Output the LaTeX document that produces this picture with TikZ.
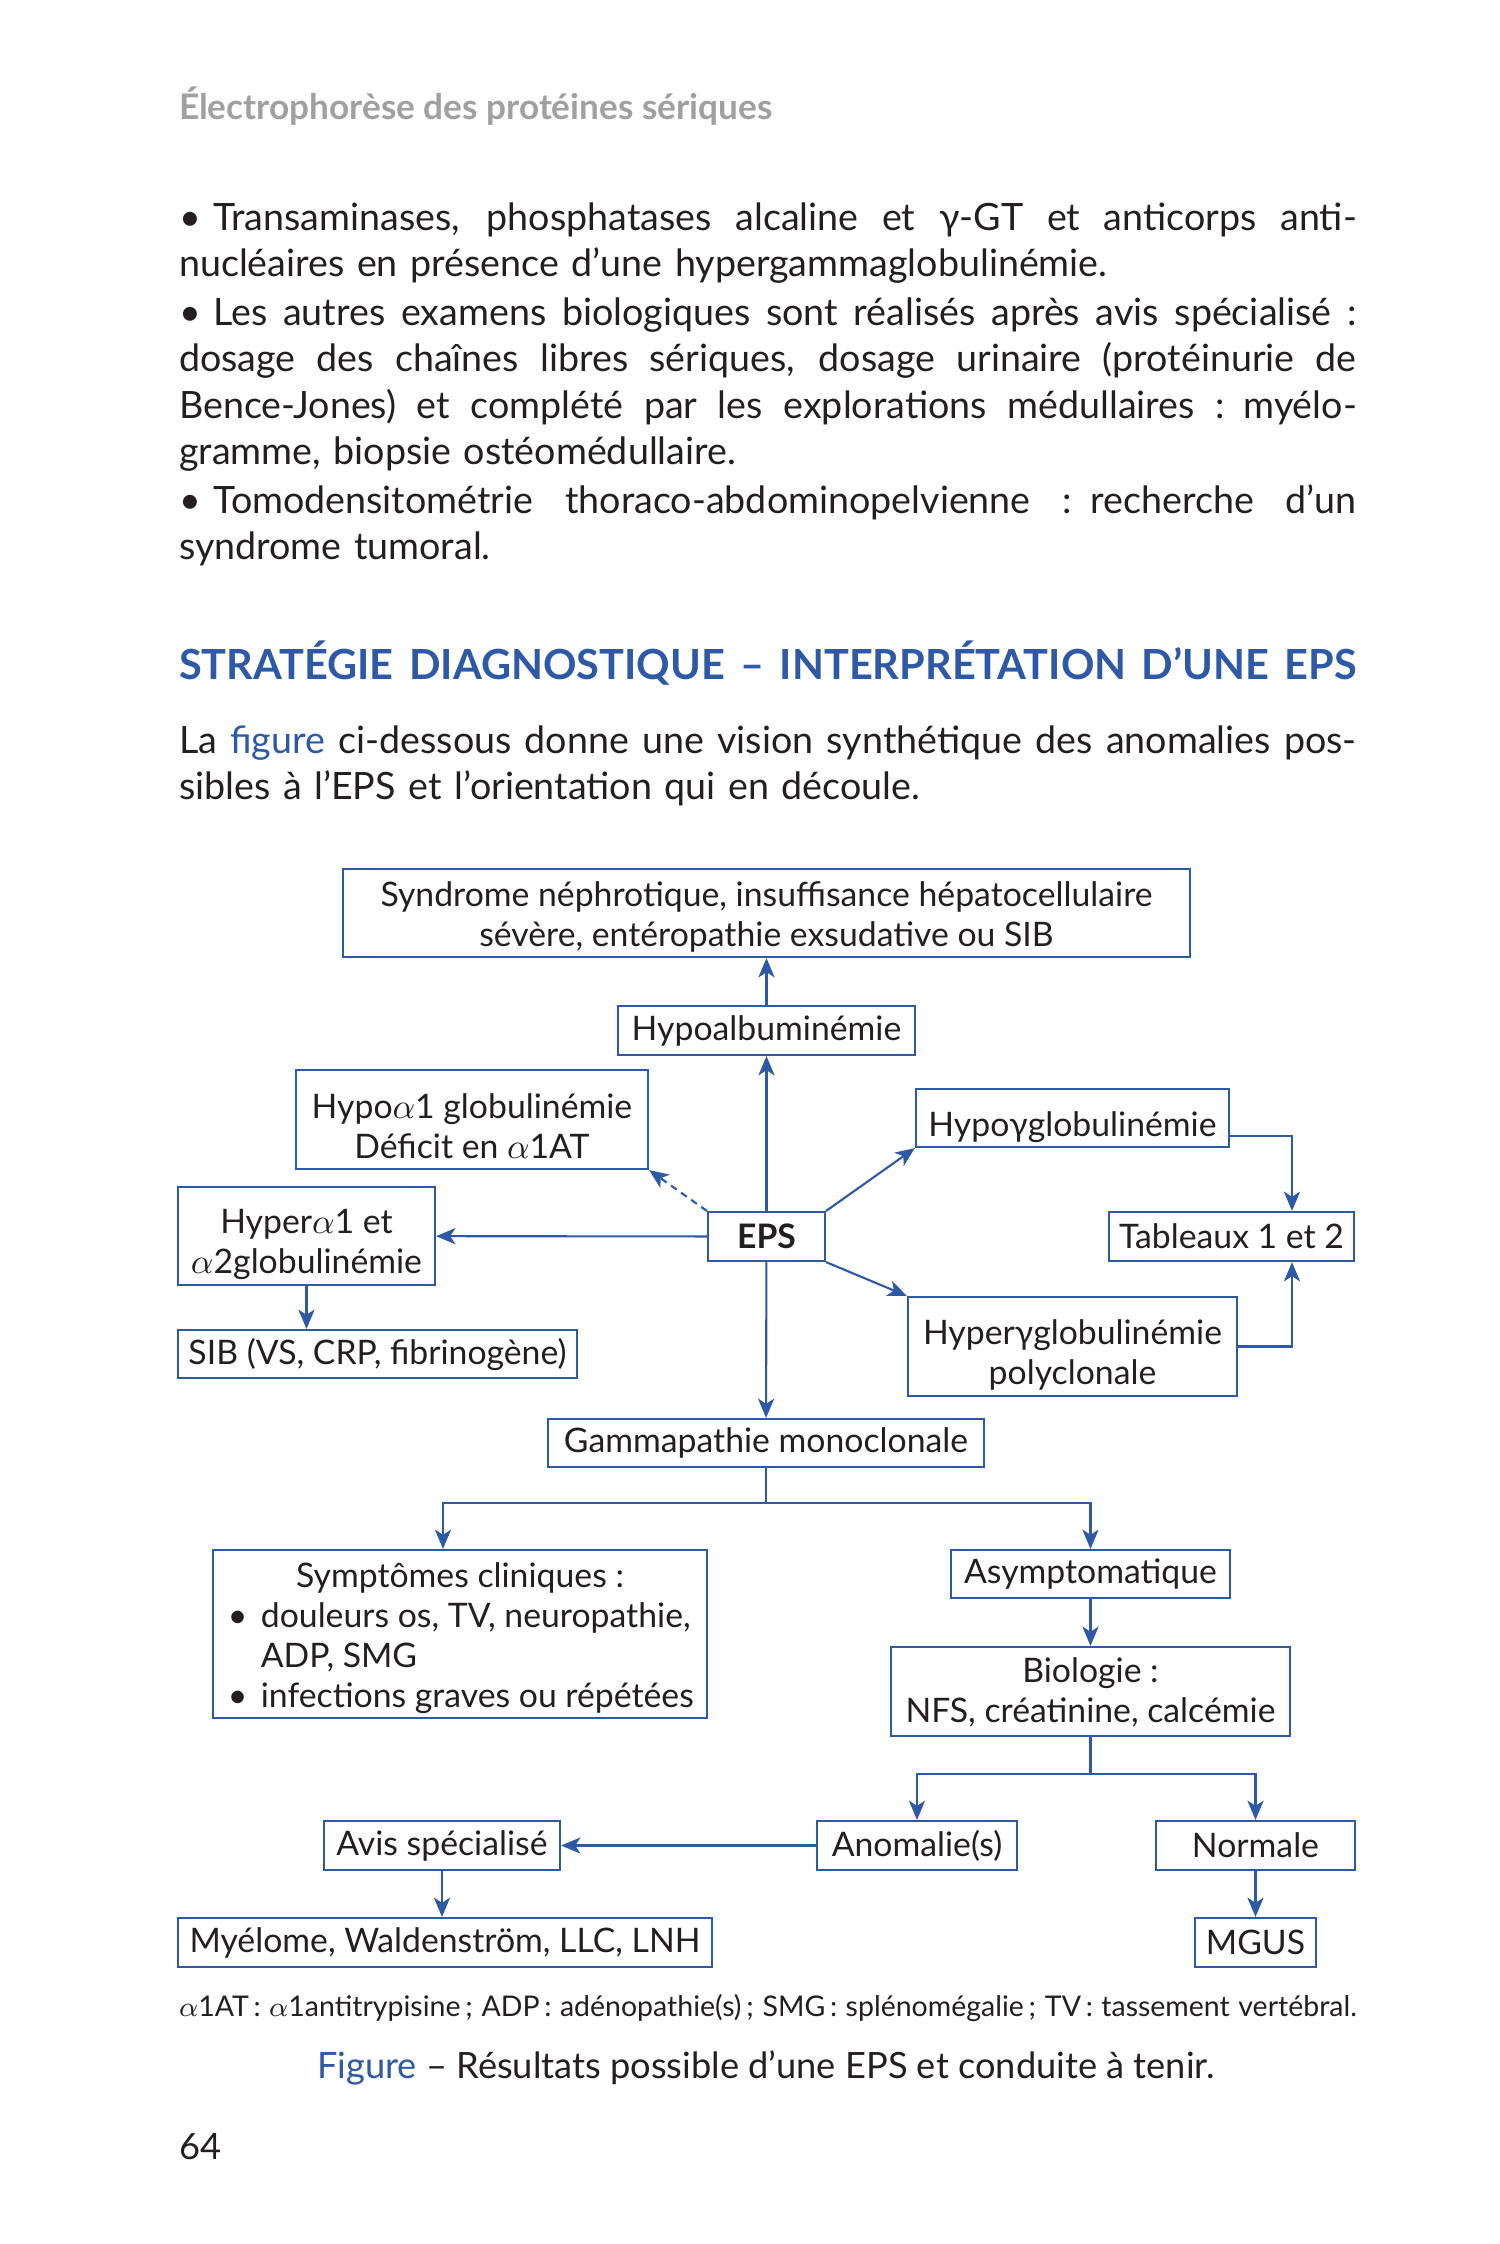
\documentclass[tikz,border=0pt]{standalone}
\usepackage{fontspec}
\setmainfont{Lato}
\usetikzlibrary{arrows.meta}
\definecolor{bleu}{RGB}{46,89,167}
\definecolor{gris}{RGB}{160,160,160}
\definecolor{encre}{RGB}{35,31,32}
\newcommand{\justif}[1]{{\spaceskip=.3333em plus .3em minus .05em\makebox[11.77cm][s]{#1}}}
\newcommand{\cale}[1]{\rule{0pt}{#1}}
\newcommand{\puce}{\textbullet\hspace{.3333em}}
\tikzset{every path/.style={line width=0.6pt}}
\tikzset{boite/.style={draw=bleu, text=encre, inner sep=0pt, align=center, font=\fontsize{9.6}{11.4}\selectfont}}
\tikzset{fleche/.style={draw=bleu, -{Stealth[length=5.5pt,width=4.6pt,inset=1.5pt]}}}
\tikzset{texte/.style={anchor=north west, inner sep=0pt, text=encre, align=left, text width=11.77cm, font=\fontsize{10.7}{13.1}\selectfont}}

\begin{document}
\begin{tikzpicture}[x=0.01cm,y=-0.01cm]
\fill[white] (0,0) rectangle (1500,2244);
\node[anchor=west, inner sep=0pt, text=gris, font=\bfseries\fontsize{10}{12}\selectfont] (entete) at (178,106) {Électrophorèse des protéines sériques};
\node[texte] (puces) at (178,202) {\justif{\puce Transaminases, phosphatases alcaline et γ-GT et anticorps anti-}\\
nucléaires en présence d’une hypergammaglobulinémie.\\[0.85pt]
\justif{\puce Les autres examens biologiques sont réalisés après avis spécialisé :}\\
\justif{dosage des chaînes libres sériques, dosage urinaire (protéinurie de}\\
\justif{Bence-Jones) et complété par les explorations médullaires : myélo-}\\
gramme, biopsie ostéomédullaire.\\[0.85pt]
\justif{\puce Tomodensitométrie thoraco-abdominopelvienne : recherche d’un}\\
syndrome tumoral.};
\node[anchor=west, inner sep=0pt, text=bleu, font=\bfseries\fontsize{11.8}{14}\selectfont] (titre) at (178,663) {\justif{STRATÉGIE DIAGNOSTIQUE – INTERPRÉTATION D’UNE EPS}};
\node[texte] (intro) at (178,725) {\justif{La \textcolor{bleu}{figure} ci-dessous donne une vision synthétique des anomalies pos-}\\
sibles à l’EPS et l’orientation qui en découle.};

\node[boite, minimum width=8.47cm, minimum height=0.88cm] (syndrome) at (766.5,913) {\cale{9.3pt}Syndrome néphrotique, insuffisance hépatocellulaire\\sévère, entéropathie exsudative ou SIB};
\node[boite, minimum width=2.97cm, minimum height=0.49cm] (hypoalb) at (766.5,1030.5) {Hypoalbuminémie};
\node[boite, minimum width=3.52cm, minimum height=0.99cm] (hypoa) at (472,1119.5) {\cale{11.1pt}Hypo$\alpha$1 globulinémie\\Déficit en $\alpha$1AT};
\node[boite, minimum width=3.13cm, minimum height=0.58cm] (hypog) at (1072.5,1118) {\cale{12pt}Hypoγglobulinémie};
\node[boite, minimum width=1.17cm, minimum height=0.49cm, font=\bfseries\fontsize{9.6}{11.4}\selectfont] (eps) at (766.5,1236.5) {EPS};
\node[boite, minimum width=2.57cm, minimum height=0.98cm] (hypera) at (306.5,1236) {\cale{11.5pt}Hyper$\alpha$1 et\\$\alpha$2globulinémie};
\node[boite, minimum width=2.45cm, minimum height=0.49cm] (tableaux) at (1231.5,1236.5) {Tableaux 1 et 2};
\node[boite, minimum width=3.29cm, minimum height=0.99cm] (hyperg) at (1072.5,1346.5) {\cale{11.9pt}Hyperγglobulinémie\\polyclonale};
\node[boite, minimum width=3.99cm, minimum height=0.48cm] (sib) at (377.5,1354) {SIB (VS, CRP, fibrinogène)};
\node[boite, minimum width=4.36cm, minimum height=0.48cm] (gamma) at (766,1443) {Gammapathie monoclonale};
\node[boite, minimum width=4.94cm, minimum height=1.68cm] (sympt) at (460,1634) {\begin{minipage}{4.74cm}\vspace*{2.3pt}\centering Symptômes cliniques :\par
\raggedright
\hspace*{0.05cm}\makebox[0.33cm][l]{\textbullet}douleurs os, TV, neuropathie,\par
\hspace*{0.38cm}ADP, SMG\par
\hspace*{0.05cm}\makebox[0.33cm][l]{\textbullet}infections graves ou répétées\end{minipage}};
\node[boite, minimum width=2.79cm, minimum height=0.48cm] (asympt) at (1090.5,1574) {Asymptomatique};
\node[boite, minimum width=3.99cm, minimum height=0.89cm] (bio) at (1090.5,1691.5) {\cale{7.8pt}Biologie :\\NFS, créatinine, calcémie};
\node[boite, minimum width=2.00cm, minimum height=0.49cm] (anom) at (917,1845.5) {Anomalie(s)};
\node[boite, minimum width=1.99cm, minimum height=0.49cm] (normale) at (1255.5,1845.5) {Normale};
\node[boite, minimum width=2.36cm, minimum height=0.49cm] (avis) at (442,1845.5) {Avis spécialisé};
\node[boite, minimum width=5.34cm, minimum height=0.49cm] (myelome) at (445,1942.5) {Myélome, Waldenström, LLC, LNH};
\node[boite, minimum width=1.21cm, minimum height=0.49cm] (mgus) at (1255.5,1942.5) {MGUS};
\coordinate (coude) at (1292,0);
\coordinate (gauche) at (443,0);

\draw[fleche] (hypoalb) -- (syndrome);
\draw[fleche] (eps) -- (hypoalb);
\draw[fleche, dash pattern=on 2pt off 1.5pt] (eps.north west) -- (hypoa.south east);
\draw[fleche] (eps.north east) -- (hypog.south west);
\draw[fleche] (eps) -- (hypera);
\draw[fleche] (eps.south east) -- (hyperg.north west);
\draw[fleche] (eps) -- (gamma);
\draw[fleche] (hypera.south) -- (hypera.south |- sib.north);
\draw[fleche] ([yshift=3.4pt]hypog.south east) -| (coude |- tableaux.north);
\draw[fleche] (hyperg.east) -| (coude |- tableaux.south);
\draw[fleche] (gamma.south) -- ++(0,35) -| (gauche |- sympt.north);
\draw[fleche] (gamma.south) -- ++(0,35) -| (asympt.north);
\draw[fleche] (asympt) -- (bio);
\draw[fleche] (bio.south) -- ++(0,37) -| (anom.north);
\draw[fleche] (bio.south) -- ++(0,37) -| (normale.north);
\draw[fleche] (anom) -- (avis);
\draw[fleche] (avis.south) -- (avis.south |- myelome.north);
\draw[fleche] (normale) -- (mgus);

\node[anchor=west, inner sep=0pt, text=encre, font=\fontsize{8.1}{10}\selectfont] (abrev) at (178,2008) {\justif{$\alpha$1AT\,: $\alpha$1antitrypisine\,; ADP\,: adénopathie(s)\,; SMG\,: splénomégalie\,; TV\,: tassement vertébral.}};
\node[inner sep=0pt, text=encre, font=\fontsize{10.3}{13}\selectfont] (legende) at (766,2068) {\textcolor{bleu}{Figure} – Résultats possible d’une EPS et conduite à tenir.};
\node[anchor=west, inner sep=0pt, text=encre, font=\fontsize{10.3}{13}\selectfont] (page) at (178,2147) {64};
\end{tikzpicture}
\end{document}
